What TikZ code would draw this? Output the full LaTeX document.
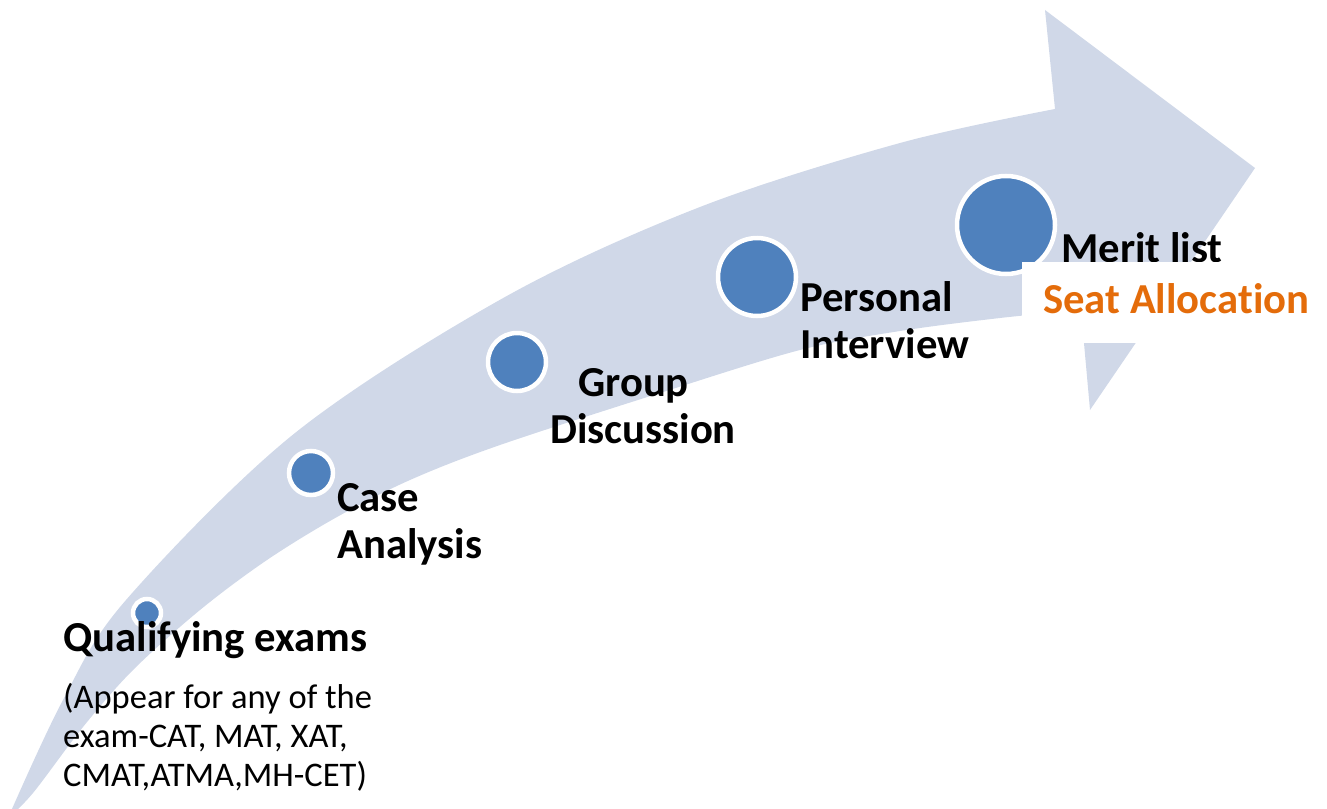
\documentclass[tikz,border=0pt]{standalone}
\usepackage{fontspec}
\setmainfont{Carlito}[Ligatures=CommonOff]
\definecolor{arrowfill}{HTML}{D0D8E8}
\definecolor{dotblue}{HTML}{4F81BD}
\definecolor{seatorange}{HTML}{E46C0A}
\begin{document}
\begin{tikzpicture}[x=1pt,y=-1pt,
  dot/.style={circle,fill=dotblue,draw=white,line width=4.5pt,inner sep=0pt},
  lbl/.style={anchor=base west,inner sep=0pt,font=\fontsize{42.7}{51}\selectfont\bfseries},
  small/.style={anchor=base west,inner sep=0pt,font=\fontsize{34.5}{41}\selectfont}]
\useasboundingbox (0,0) rectangle (1327,808);
\begin{scope}
\clip (0,0) rectangle (1327,808);
\fill[arrowfill] plot[smooth,tension=0.55] coordinates {(8,818) (63,700) (126,600) (295,433) (505,297) (700,207) (900,143) (1055,109)}
  -- (1045,10) -- (1255,168) -- (1090,410) -- (1081,310)
  -- plot[smooth,tension=0.55] coordinates {(1081,310) (1000,318) (900,331) (800,350) (660,393) (500,445) (410,480) (337,517) (267,560) (200,610) (133,670) (83,727) (33,793) (8,818)}
  -- cycle;
\end{scope}
% dots
\node[dot,minimum size=28pt] (q) at (147,613) {};
\node[dot,minimum size=44pt] (c) at (311,473) {};
\node[dot,minimum size=58pt] (g) at (517,362) {};
\node[dot,minimum size=78pt] (p) at (757,277) {};
\node[dot,minimum size=98pt] (m) at (1006,225) {};
% labels
\node[lbl] (qual) at (63,651) {Qualifying exams};
\node[small] (s1) at (63,708) {(Appear for any of the};
\node[small] (s2) at (63,747) {exam-CAT, MAT, XAT,};
\node[small] (s3) at (63,786) {CMAT,ATMA,MH-CET)};
\node[lbl] (case1) at (337,511) {Case};
\node[lbl] (case2) at (337,558) {Analysis};
\node[lbl] (gd1) at (578,396) {Group};
\node[lbl] (gd2) at (550,443) {Discussion};
\node[lbl] (pi1) at (800,311) {Personal};
\node[lbl] (pi2) at (800,358) {Interview};
\node[lbl] (merit) at (1061,262) {Merit list};
\fill[white] (1022,262) rectangle (1320,343);
\node[lbl,text=seatorange] (seat) at (1043,313) {Seat Allocation};
\end{tikzpicture}
\end{document}
